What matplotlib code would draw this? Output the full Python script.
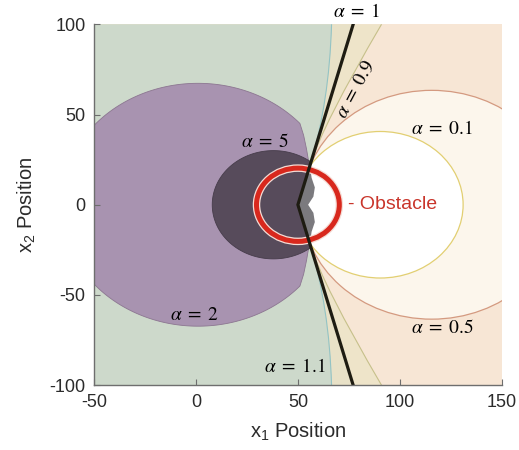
import numpy as np
import matplotlib
matplotlib.use('Agg')
import matplotlib.pyplot as plt
from matplotlib.path import Path
from matplotlib.patches import PathPatch, Polygon, Circle

plt.rcParams['font.family'] = ['Liberation Sans', 'DejaVu Sans']
plt.rcParams['mathtext.fontset'] = 'custom'
plt.rcParams['mathtext.rm'] = 'Liberation Sans'
plt.rcParams['mathtext.it'] = 'Liberation Sans:italic'
plt.rcParams['axes.unicode_minus'] = False

# axis ranges / ticks
x_lim = [-50, 150]
y_lim = [-100, 100]
x_ticks = [-50, 0, 50, 100, 150]
y_ticks = [-100, -50, 0, 50, 100]

# obstacle
obs_center = (50.0, 0.0)
obs_radius = 20.3

# alpha = 1 boundary: two rays from the obstacle centre to the top/bottom edge
v_vertex = (50.0, 0.0)
a1_edge_x = 77.1
tangent_pt = (55.9, 21.6)          # where all level sets meet (mirrored below)

# alpha = 1.1 and alpha = 0.9: quadratic curves tangent_pt -> ctrl -> edge
a11_ctrl = (65.4, 56.6)
a11_end = (66.5, 100.0)
a09_ctrl = (62.1, 44.4)
a09_end = (91.0, 100.0)

# alpha = 2: circle on the left, necking in to the tangent points
a2_center = (1.0, 0.0)
a2_radius = 67.3
a2_neck_x = [51.0, 52.8, 54.2, 55.5]
a2_neck_y = [45.0, 38.5, 31.0, 22.5]

# alpha = 5: circle cut off by the alpha = 1 rays
a5_center = (38.0, 0.0)
a5_radius = 30.0

# alpha < 1: circles through the tangent points
lo_alpha = ['0.5', '0.1']
lo_cx = [115.6, 90.4]
lo_r = [63.4, 40.6]

# region inside the obstacle, right of the alpha = 1 rays
inner_x = [55.9, 56.7, 58.3, 57.6, 55.0, 57.6, 58.3, 56.7, 55.9, 50.0]
inner_y = [21.6, 15.0, 9.6, 4.5, 0.0, -4.5, -9.6, -15.0, -21.6, 0.0]

# level-set labels
label_text = ['5', '2', '1.1', '1', '0.9', '0.1', '0.5']
label_x = [33.8, -0.5, 48.5, 79.0, 78.2, 120.6, 120.9]
label_y = [34.9, -61.5, -90.0, 107.0, 63.7, 42.1, -68.3]
label_rot = [0, 0, 0, 0, 62, 0, 0]

c_green = '#cdd9cb'
c_khaki_l = '#e8e1c7'
c_khaki_r = '#eee4c9'
c_peach = '#f7e6d5'
c_cream = '#fcf6ec'
c_purple = '#a893b0'
c_dark = '#574b5b'
c_inner = '#7b7a7e'

v_slope = (a1_edge_x - v_vertex[0]) / y_lim[1]


def mirror(p):
    return (p[0], -p[1])


def left_of_curve(ctrl, end):
    # area left of a curve running top edge -> tangent point -> rays -> bottom edge
    x0, y0, y1 = x_lim[0], y_lim[0], y_lim[1]
    verts = [(x0, y1), end, ctrl, tangent_pt, v_vertex, mirror(tangent_pt),
             mirror(ctrl), mirror(end), (x0, y0), (x0, y1)]
    codes = [Path.MOVETO, Path.LINETO, Path.CURVE3, Path.CURVE3, Path.LINETO,
             Path.LINETO, Path.CURVE3, Path.CURVE3, Path.LINETO, Path.CLOSEPOLY]
    return Path(verts, codes)


def curve_pair(ctrl, end):
    verts = [tangent_pt, ctrl, end, mirror(tangent_pt), mirror(ctrl), mirror(end)]
    codes = [Path.MOVETO, Path.CURVE3, Path.CURVE3] * 2
    return Path(verts, codes)


def clamp_to_rays(x, y):
    return np.minimum(x, v_vertex[0] + v_slope * np.abs(y))


fig = plt.figure(figsize=(5.19, 4.5), dpi=100)
ax = fig.add_axes([0.181, 0.144, 0.786, 0.802])
ax.set_facecolor(c_peach)

# band between the alpha = 1 rays and the alpha = 0.9 curves
ax.add_patch(PathPatch(left_of_curve(a09_ctrl, a09_end), fc=c_khaki_r, ec='none'))
# band between alpha = 1.1 and alpha = 1
x0, y0, y1 = x_lim[0], y_lim[0], y_lim[1]
ax.add_patch(Polygon([(x0, y1), (a1_edge_x, y1), v_vertex, (a1_edge_x, y0), (x0, y0)],
                     closed=True, fc=c_khaki_l, ec='none'))

# alpha < 1 circles
for cx, r, fc, ec in zip(lo_cx, lo_r, [c_cream, 'white'], ['#d49a80', '#e2cf72']):
    ax.add_patch(Circle((cx, 0), r, fc=fc, ec=ec, lw=0.9))

# alpha > 1.1 side
ax.add_patch(PathPatch(left_of_curve(a11_ctrl, a11_end), fc=c_green, ec='none'))

th1 = np.arctan2(a2_neck_y[0] - a2_center[1], a2_neck_x[0] - a2_center[0])
th = np.linspace(th1, 2 * np.pi - th1, 200)
a2_x = np.concatenate([[v_vertex[0]], a2_neck_x[::-1], a2_center[0] + a2_radius * np.cos(th),
                       a2_neck_x])
a2_y = np.concatenate([[v_vertex[1]], a2_neck_y[::-1], a2_center[1] + a2_radius * np.sin(th),
                       -np.array(a2_neck_y)])
ax.add_patch(Polygon(np.column_stack([a2_x, a2_y]), closed=True, fc=c_purple,
                     ec='#8c7691', lw=0.6))

th = np.linspace(0, 2 * np.pi, 300)
a5_x = a5_center[0] + a5_radius * np.cos(th)
a5_y = a5_center[1] + a5_radius * np.sin(th)
ax.add_patch(Polygon(np.column_stack([clamp_to_rays(a5_x, a5_y), a5_y]), closed=True,
                     fc=c_dark, ec='#463c4a', lw=0.6))

ax.add_patch(Polygon(np.column_stack([inner_x, inner_y]), closed=True, fc=c_inner, ec='none'))

# level-set lines
ax.add_patch(PathPatch(curve_pair(a11_ctrl, a11_end), fc='none', ec='#93c3c4', lw=0.8))
ax.add_patch(PathPatch(curve_pair(a09_ctrl, a09_end), fc='none', ec='#c6c08a', lw=0.8))
ax.plot([a1_edge_x, v_vertex[0], a1_edge_x], [y_lim[1], v_vertex[1], y_lim[0]],
        color='#1e1c12', lw=2.3, solid_joinstyle='miter')

# obstacle ring
ax.add_patch(Circle(obs_center, obs_radius, fill=False, ec='#f5dcd5', lw=5.4))
ax.add_patch(Circle(obs_center, obs_radius, fill=False, ec='#d8281d', lw=3.6))
ax.text(74.5, 0, '- Obstacle', color='#c9352b', fontsize=14, va='center', ha='left')

for t, lx, ly, rot in zip(label_text, label_x, label_y, label_rot):
    ax.text(lx, ly, r'$\alpha\;=\;%s$' % t, math_fontfamily='stix', fontsize=14,
            ha='center', va='center', rotation=rot, rotation_mode='anchor',
            clip_on=False)

ax.set_xlim(x_lim)
ax.set_ylim(y_lim)
ax.set_xticks(x_ticks)
ax.set_yticks(y_ticks)
ax.tick_params(direction='in', length=4, width=0.8, color='#6e6e6e',
               labelsize=13, labelcolor='#2b2b2b', pad=6)
for side in ['top', 'right']:
    ax.spines[side].set_visible(False)
for side in ['left', 'bottom']:
    ax.spines[side].set_color('#6e6e6e')
    ax.spines[side].set_linewidth(1.0)
ax.set_xlabel('x$_1$ Position', fontsize=14.5, color='#2b2b2b', labelpad=7)
ax.set_ylabel('x$_2$ Position', fontsize=14.5, color='#2b2b2b', labelpad=8)

fig.savefig('out.png', dpi=100)
